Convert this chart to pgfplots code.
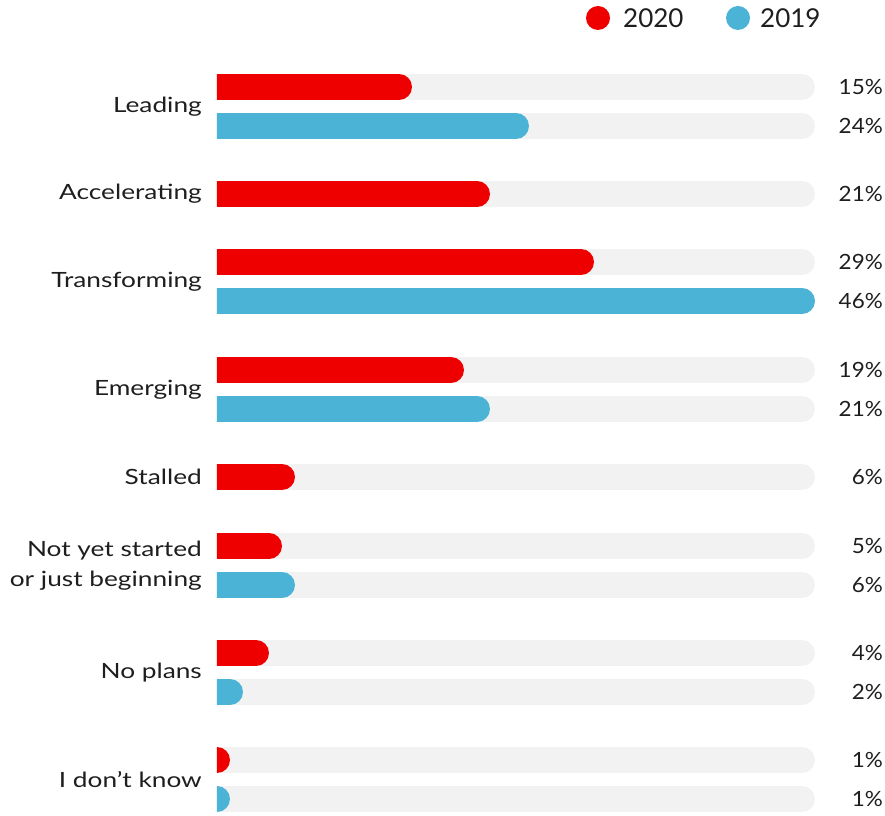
\documentclass[border=0pt]{standalone}
\usepackage{pgfplots}
\pgfplotsset{compat=1.18}
\usepackage{fontspec}
\setmainfont{Lato}
\newfontfamily\catfont[FakeStretch=1.25]{Lato}
\newfontfamily\pctfont[FakeStretch=1.07]{Lato}
\definecolor{rhred}{HTML}{EE0000}
\definecolor{rhblue}{HTML}{4BB4D6}
\definecolor{track}{HTML}{F2F2F2}
\definecolor{txt}{HTML}{1E1E1E}
\pgfplotsset{
  trk/.style={line width=26pt, line cap=round, shorten >=13pt, color=track},
  b20/.style={line width=26pt, line cap=round, shorten >=13pt, color=rhred},
  b19/.style={line width=26pt, line cap=round, shorten >=13pt, color=rhblue},
}
\begin{document}
\begin{tikzpicture}
\useasboundingbox (-217pt,0pt) rectangle (668pt,815pt);
\begin{axis}[
  at={(0pt,0pt)}, anchor=south west,
  scale only axis, width=598pt, height=755pt,
  xmin=0, xmax=46, ymin=60, ymax=815, y dir=reverse,
  axis line style={draw=none}, xtick=\empty,
  ytick={106.5,194,281.5,389.5,477,565.5,672.5,779.5},
  yticklabels={Leading,Accelerating,Transforming,Emerging,Stalled,{Not yet started\\or just beginning},No plans,I don’t know},
  major tick length=0pt,
  yticklabel style={align=right, anchor=east, inner sep=0pt, xshift=-15pt, font=\catfont\fontsize{21}{30}\selectfont, text=txt},
  clip mode=individual,
]
% tracks
\addplot[trk] coordinates {(0,87) (46,87)};
\addplot[trk] coordinates {(0,126) (46,126)};
\addplot[trk] coordinates {(0,194) (46,194)};
\addplot[trk] coordinates {(0,262) (46,262)};
\addplot[trk] coordinates {(0,301) (46,301)};
\addplot[trk] coordinates {(0,370) (46,370)};
\addplot[trk] coordinates {(0,409) (46,409)};
\addplot[trk] coordinates {(0,477) (46,477)};
\addplot[trk] coordinates {(0,546) (46,546)};
\addplot[trk] coordinates {(0,585) (46,585)};
\addplot[trk] coordinates {(0,653) (46,653)};
\addplot[trk] coordinates {(0,692) (46,692)};
\addplot[trk] coordinates {(0,760) (46,760)};
\addplot[trk] coordinates {(0,799) (46,799)};
% 2020
\addplot[b20] coordinates {(0,87) (15,87)};
\addplot[b20] coordinates {(0,194) (21,194)};
\addplot[b20] coordinates {(0,262) (29,262)};
\addplot[b20] coordinates {(0,370) (19,370)};
\addplot[b20] coordinates {(0,477) (6,477)};
\addplot[b20] coordinates {(0,546) (5,546)};
\addplot[b20] coordinates {(0,653) (4,653)};
\addplot[b20] coordinates {(0,760) (1,760)};
% 2019
\addplot[b19] coordinates {(0,126) (24,126)};
\addplot[b19] coordinates {(0,301) (46,301)};
\addplot[b19] coordinates {(0,409) (21,409)};
\addplot[b19] coordinates {(0,585) (6,585)};
\addplot[b19] coordinates {(0,692) (2,692)};
\addplot[b19] coordinates {(0,799) (1,799)};
% value labels
\addplot[draw=none, mark=none, nodes near coords, point meta=explicit symbolic,
  nodes near coords style={anchor=east, xshift=68pt, yshift=0pt, inner sep=0pt, font=\pctfont\fontsize{21}{25}\selectfont, text=txt}]
  coordinates {(46,87)[15\%] (46,126)[24\%] (46,194)[21\%] (46,262)[29\%] (46,301)[46\%]
  (46,370)[19\%] (46,409)[21\%] (46,477)[6\%] (46,546)[5\%] (46,585)[6\%]
  (46,653)[4\%] (46,692)[2\%] (46,760)[1\%] (46,799)[1\%]};
\end{axis}
% legend
\fill[rhred] (381pt,797pt) circle (12pt);
\node[anchor=west, inner sep=0pt, text=txt, font=\fontsize{26}{30}\selectfont] at (406pt,797pt) {2020};
\fill[rhblue] (521pt,797pt) circle (12pt);
\node[anchor=west, inner sep=0pt, text=txt, font=\fontsize{26}{30}\selectfont] at (543pt,797pt) {2019};
\end{tikzpicture}
\end{document}
